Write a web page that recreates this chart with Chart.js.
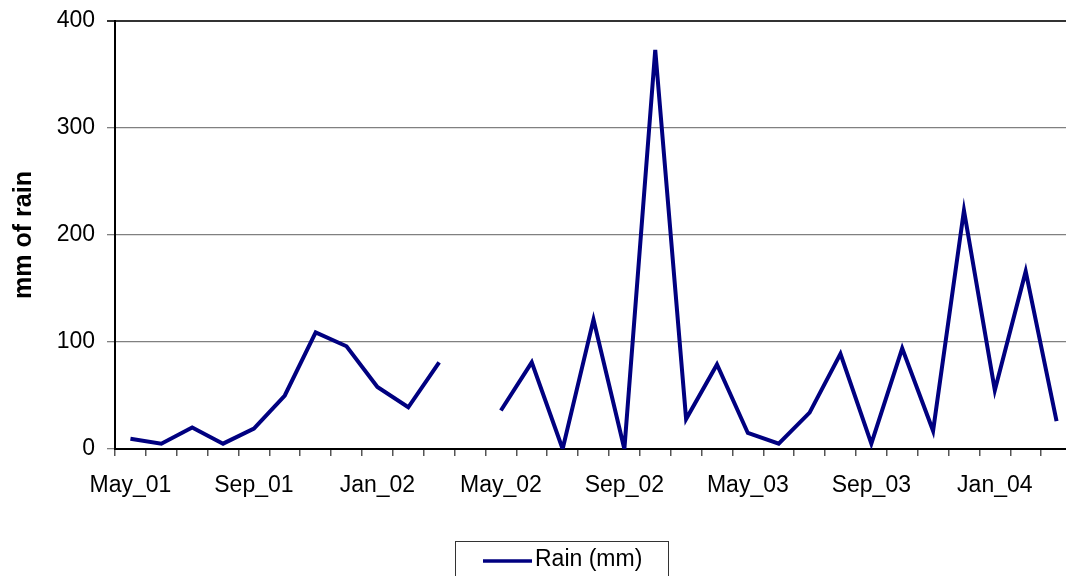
<!DOCTYPE html>
<html>
<head>
<meta charset="utf-8">
<script src="https://cdn.jsdelivr.net/npm/chart.js@4"></script>
<style>
html,body{margin:0;padding:0;background:#fff;overflow:hidden;}
</style>
</head>
<body>
<!-- the original plot runs a few px past the right edge of the picture -->
<canvas id="rain-chart" width="1072" height="576"></canvas>
<script>
// months on the category axis (only every 4th one is labelled)
const months = ['May_01','Jun_01','Jul_01','Aug_01','Sep_01','Oct_01','Nov_01','Dec_01',
'Jan_02','Feb_02','Mar_02','Apr_02','May_02','Jun_02','Jul_02','Aug_02','Sep_02',
'Oct_02','Nov_02','Dec_02','May_03','Jun_03','Jul_03','Aug_03','Sep_03','Oct_03',
'Nov_03','Dec_03','Jan_04','Feb_04','Mar_04'];

// rain in mm, null = no reading
const rain = [9.5,5,20,5,19,50,109,96,58,39,81,null,36,81,0,121,0,373,28,79,15,5,34,89,5,94,17,223,55,166,26];

const yTicks = [0,100,200,300,400];
const seriesName = 'Rain (mm)';
const yTitle = 'mm of rain';

const FONT = '"Liberation Sans", Arial, sans-serif';
Chart.defaults.font.family = FONT;
Chart.defaults.color = '#000';

// excel style legend with a frame round it
const legendBox = {
id:'legendBox',
afterDraw(chart){
const ctx = chart.ctx;
const ds = chart.data.datasets[0];
ctx.save();
ctx.strokeStyle = '#333';
ctx.lineWidth = 1;
ctx.strokeRect(455.5,541.5,213,40);
ctx.strokeStyle = ds.borderColor;
ctx.lineWidth = 3.5;
ctx.beginPath();
ctx.moveTo(483,561);
ctx.lineTo(532,561);
ctx.stroke();
ctx.fillStyle = '#000';
ctx.font = '23px ' + FONT;
ctx.textBaseline = 'middle';
ctx.fillText(ds.label,535,560);
ctx.restore();
}
};

new Chart(document.getElementById('rain-chart'),{
type:'line',
data:{
labels:months,
datasets:[{
label:seriesName,
data:rain,
borderColor:'#000080',
borderWidth:4,
pointRadius:0,
tension:0,
spanGaps:false,
fill:false
}]
},
plugins:[legendBox],
options:{
responsive:false,
animation:false,
layout:{padding:{top:21,right:0,bottom:0,left:0}},
plugins:{
legend:{display:false},
tooltip:{enabled:false}
},
scales:{
x:{
offset:true,
grid:{
offset:true,
drawOnChartArea:false,
drawTicks:true,
tickLength:7,
color:'#555',
lineWidth:1.5
},
border:{color:'#000',width:2},
ticks:{
autoSkip:false,
maxRotation:0,
minRotation:0,
padding:16,
font:{size:23},
callback:function(value,index){
return index % 4 === 0 ? months[index] : '';
}
},
afterFit:function(scale){
scale.height = 127;
scale.paddingLeft = 0;
scale.paddingRight = 0;
}
},
y:{
min:0,
max:400,
afterBuildTicks:function(scale){ scale.ticks = yTicks.map(v => ({value:v})); },
grid:{
drawTicks:true,
tickLength:8,
color:function(c){ return c.tick && c.tick.value === 400 ? '#333' : '#808080'; },
lineWidth:function(c){ return c.tick && c.tick.value === 400 ? 2 : 1.3; }
},
border:{color:'#000',width:2},
ticks:{
padding:12,
font:{size:23}
},
title:{
display:true,
text:yTitle,
font:{size:25,weight:'bold'},
padding:{top:9,bottom:0}
},
afterFit:function(scale){
scale.width = 115;
scale.paddingTop = 0;
scale.paddingBottom = 0;
}
}
}
}
});
</script>
</body>
</html>
